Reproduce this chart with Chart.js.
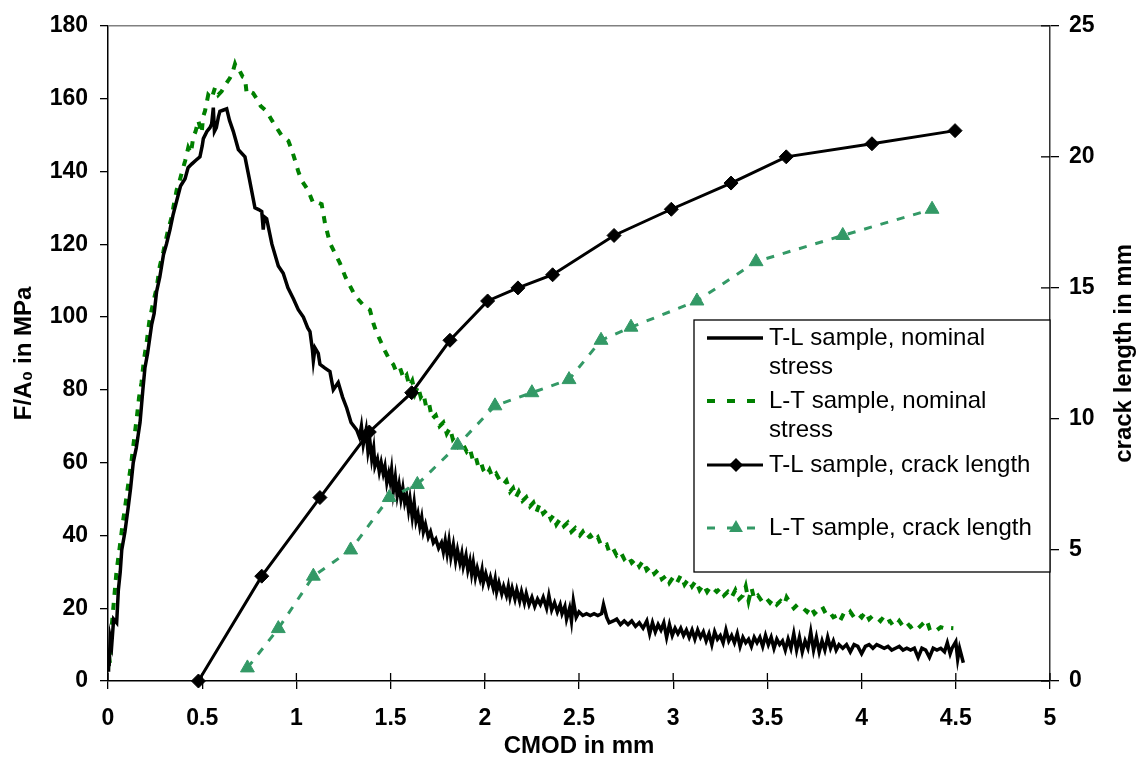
<!DOCTYPE html>
<html>
<head>
<meta charset="utf-8">
<script src="https://cdn.jsdelivr.net/npm/chart.js@4/dist/chart.umd.min.js"></script>
<style>
  html, body { margin: 0; background: #fff; }
</style>
</head>
<body>
<canvas id="chart" width="1141" height="764"></canvas>
<script>
// Données
const seriesNames = [
  ['T-L sample, nominal', 'stress'],
  ['L-T sample, nominal', 'stress'],
  ['T-L sample, crack length'],
  ['L-T sample, crack length']
];

// CMOD (mm), F/A0 (MPa)
const tlStress = [
  [0,3],[0.003,8],[0.006,4],[0.012,12],[0.02,10],[0.03,17],[0.046,16],[0.055,25],[0.065,30],[0.073,36],
  [0.09,41],[0.108,48],[0.12,53],[0.134,60],[0.15,64],[0.17,71],[0.185,80],[0.196,86],[0.21,90],[0.232,98],
  [0.245,101],[0.258,107],[0.275,111],[0.294,117],[0.31,120],[0.329,124],[0.345,128],[0.365,132],[0.385,136],[0.409,138],
  [0.425,141],[0.444,142],[0.465,143],[0.488,144],[0.5,147],[0.506,149],[0.525,151],[0.541,152],[0.55,153],[0.559,157.5],
  [0.565,151],[0.575,152],[0.586,155],[0.594,156.5],[0.61,156.8],[0.63,157.2],[0.645,154],[0.665,151],[0.692,146],[0.727,144],
  [0.75,138],[0.78,130],[0.8,129.5],[0.816,129],[0.824,124],[0.83,127.5],[0.842,127],[0.87,120],[0.904,114],[0.93,112],
  [0.955,108],[0.984,105],[1.01,102],[1.037,100],[1.06,97],[1.072,96],[1.085,91],[1.09,88],[1.099,91.5],[1.116,90],
  [1.125,87],[1.15,86],[1.178,85],[1.196,80],[1.222,82],[1.245,78],[1.267,75],[1.29,71],[1.32,69],[1.335,67],
  [1.345,70],[1.355,65],[1.37,69],[1.38,63],[1.39,66],[1.4,61],[1.41,64],[1.417,59],[1.43,61],[1.44,57.5],
  [1.45,60],[1.461,57],[1.47,59],[1.48,54.5],[1.49,57],[1.497,55],[1.505,58],[1.514,52],[1.525,56],[1.535,51],
  [1.545,54],[1.555,50],[1.565,53],[1.575,49],[1.585,51],[1.595,47],[1.603,50],[1.615,45],[1.625,49],[1.635,44],
  [1.645,46],[1.655,42.5],[1.665,45],[1.674,41],[1.685,43],[1.7,39.5],[1.712,41],[1.727,38],[1.74,39],[1.755,36.5],
  [1.77,38],[1.78,35.5],[1.79,38.5],[1.8,35],[1.81,38.5],[1.82,34],[1.833,37.5],[1.845,33],[1.855,36],[1.868,32.5],
  [1.878,35],[1.886,31.5],[1.9,34.5],[1.91,30.5],[1.921,33],[1.93,29.5],[1.939,32.5],[1.95,28.5],[1.96,31],[1.975,28],
  [1.985,30.5],[1.992,27],[2.005,29.5],[2.02,26.5],[2.03,28.5],[2.045,25.5],[2.055,28],[2.063,24.5],[2.075,27],[2.09,24],
  [2.1,26],[2.115,23.5],[2.125,26],[2.134,23],[2.145,25.5],[2.16,22.5],[2.17,25],[2.185,22],[2.195,24.5],[2.21,21.5],
  [2.22,24],[2.235,21],[2.25,23],[2.265,20.5],[2.28,22.5],[2.295,21],[2.31,23],[2.328,20],[2.34,23.5],[2.355,19.5],
  [2.37,21.5],[2.385,19],[2.4,21],[2.41,18.5],[2.425,20.5],[2.434,17],[2.45,20],[2.46,16.5],[2.47,22],[2.485,17.5],
  [2.5,19],[2.52,18],[2.54,18.5],[2.56,18],[2.58,18.5],[2.6,18],[2.62,18.5],[2.63,21],[2.647,17.5],[2.66,16],
  [2.682,16.5],[2.7,17],[2.72,15.5],[2.74,16.5],[2.76,15.5],[2.78,16.5],[2.8,15],[2.82,16],[2.84,14.5],[2.86,16.5],
  [2.875,13],[2.89,16],[2.905,13.5],[2.92,15.5],[2.935,14],[2.95,16],[2.965,12],[2.98,15.5],[2.995,12.5],[3.01,14.5],
  [3.025,13],[3.04,14.5],[3.055,12.5],[3.07,14],[3.085,12],[3.1,14],[3.115,11.5],[3.13,14],[3.145,12],[3.16,13.5],
  [3.175,11],[3.19,13],[3.205,10],[3.22,13.5],[3.235,11.5],[3.25,12.5],[3.265,10.5],[3.28,14],[3.295,11],[3.31,12.5],
  [3.325,10.5],[3.34,13],[3.355,9.5],[3.37,12],[3.385,10.5],[3.4,11.5],[3.415,9.5],[3.43,12],[3.445,10.5],[3.46,12],
  [3.475,9.5],[3.49,12.5],[3.505,10],[3.52,12],[3.535,9],[3.55,11.5],[3.565,10],[3.58,11],[3.595,8.5],[3.61,11.5],
  [3.625,9],[3.64,13],[3.655,8.5],[3.67,12],[3.685,8],[3.7,11],[3.715,9],[3.73,13.5],[3.745,8.5],[3.76,12],
  [3.775,8],[3.79,11],[3.805,8.5],[3.82,12],[3.835,9],[3.85,11],[3.865,8.5],[3.88,10],[3.9,9],[3.92,10],
  [3.94,8],[3.96,10],[3.98,9.5],[4.0,7.5],[4.02,9.5],[4.04,10],[4.06,9],[4.08,10],[4.1,9.5],[4.12,9],
  [4.14,9.5],[4.16,8.5],[4.18,9],[4.2,9.5],[4.22,8.5],[4.24,9],[4.26,8.5],[4.28,9],[4.3,6.5],[4.32,9],
  [4.34,8.5],[4.36,6.5],[4.38,9],[4.4,8.5],[4.42,9],[4.44,8],[4.455,10.5],[4.47,7.5],[4.48,9],[4.5,10.8],
  [4.51,6],[4.52,9],[4.53,7],[4.54,5]
];

const ltStress = [
  [0,3],[0.005,7],[0.01,5],[0.018,14],[0.028,20],[0.045,30],[0.064,37.5],[0.08,44],[0.09,47.5],[0.11,55],
  [0.126,61],[0.14,67],[0.152,72],[0.165,78],[0.178,82],[0.19,88],[0.205,93],[0.22,99],[0.24,104],[0.258,108],
  [0.275,114],[0.294,118],[0.315,123],[0.338,127.5],[0.35,131],[0.365,135],[0.378,137],[0.391,139.5],[0.41,143],[0.426,146.5],
  [0.44,145],[0.453,149.5],[0.465,151],[0.479,154],[0.497,150.5],[0.505,155],[0.515,156.6],[0.532,161],[0.55,160],[0.568,163],
  [0.585,161],[0.603,162],[0.625,164],[0.648,165.7],[0.66,167],[0.674,169.5],[0.685,168],[0.7,167.5],[0.715,166],[0.727,165.7],
  [0.736,161.5],[0.75,162],[0.77,161.5],[0.789,160],[0.81,158],[0.842,156.5],[0.87,154],[0.895,152],[0.92,150],[0.957,148.4],
  [0.975,146],[0.993,143],[1.01,140],[1.028,137.5],[1.06,135],[1.09,131.2],[1.11,131.5],[1.134,131],[1.152,125.7],[1.165,123],
  [1.178,120.3],[1.2,118],[1.231,114.8],[1.26,111],[1.285,108.5],[1.31,106],[1.329,104.8],[1.36,103],[1.39,102],[1.41,98],
  [1.426,95.7],[1.45,93],[1.47,90.7],[1.497,88],[1.514,87],[1.53,85],[1.55,86],[1.57,83],[1.585,84],[1.6,81],
  [1.615,82.5],[1.63,79],[1.645,81],[1.66,78],[1.674,79],[1.69,75],[1.705,76],[1.72,72],[1.74,73],[1.76,70],
  [1.78,71],[1.798,68],[1.815,69.5],[1.83,66.5],[1.845,67.5],[1.86,64.5],[1.88,65.5],[1.904,63],[1.92,64],[1.935,61],
  [1.95,62],[1.965,59],[1.98,60],[1.992,58],[2.01,56.6],[2.025,58],[2.04,56],[2.06,57],[2.081,55],[2.1,54],
  [2.115,55],[2.134,52],[2.15,53],[2.165,50.5],[2.18,52],[2.2,49.5],[2.22,50.5],[2.24,48],[2.258,49],[2.275,46.5],
  [2.29,48.5],[2.31,46],[2.33,47],[2.35,44.5],[2.364,45.5],[2.38,43],[2.4,44.5],[2.42,42.5],[2.44,43.5],[2.46,41],
  [2.48,42],[2.505,40],[2.52,41],[2.54,39],[2.56,40],[2.58,38.5],[2.6,39.5],[2.62,37],[2.647,37.5],[2.66,35.5],
  [2.68,36.5],[2.7,34.5],[2.72,35.5],[2.74,33.5],[2.76,34.5],[2.78,32.5],[2.8,33.5],[2.82,31.5],[2.84,33],[2.859,30.5],
  [2.88,31.5],[2.9,29.5],[2.92,30.5],[2.94,28],[2.965,29],[2.98,27],[3.0,28.5],[3.02,27],[3.04,29],[3.06,26.5],
  [3.08,28],[3.1,26],[3.12,27.5],[3.14,25],[3.16,26.5],[3.18,24.5],[3.2,26],[3.231,24.5],[3.25,25.5],[3.27,23.5],
  [3.29,24.5],[3.31,23],[3.33,25],[3.35,22.5],[3.37,23.5],[3.385,26],[3.4,22],[3.416,25.5],[3.43,22.5],[3.45,23.5],
  [3.47,22],[3.49,23],[3.514,21.5],[3.53,22.5],[3.55,21],[3.57,22],[3.59,21],[3.602,23],[3.62,21.5],[3.64,20],
  [3.66,21],[3.69,20],[3.71,19],[3.73,20.5],[3.75,18.5],[3.77,19.5],[3.79,20.5],[3.81,18.5],[3.83,19],[3.85,17.5],
  [3.87,18],[3.885,16.5],[3.9,18],[3.92,17.5],[3.94,19],[3.96,17.5],[3.98,18.5],[4.0,17.5],[4.02,19],[4.04,17],
  [4.06,18],[4.08,17.5],[4.1,16.5],[4.115,17.5],[4.13,16],[4.15,16.5],[4.17,15],[4.186,15.5],[4.2,16.5],[4.22,15],
  [4.24,16],[4.26,14.8],[4.28,15.5],[4.3,14.5],[4.32,15.5],[4.345,16.8],[4.36,14.5],[4.38,15],[4.4,14],[4.42,14.8],
  [4.44,14.5],[4.46,14.6],[4.487,14.5]
];

// longueur de fissure (mm)
const tlCrackX = [0.48, 0.816, 1.125, 1.387, 1.612, 1.815, 2.015, 2.176, 2.36, 2.686, 2.99, 3.307, 3.6, 4.055, 4.496];
const tlCrackY = [0, 4, 7, 9.5, 11, 13, 14.5, 15, 15.5, 17, 18, 19, 20, 20.5, 21];
const ltCrackX = [0.74, 0.904, 1.09, 1.288, 1.493, 1.642, 1.856, 2.054, 2.25, 2.447, 2.617, 2.776, 3.126, 3.44, 3.9, 4.374];
const ltCrackY = [0.5, 2, 4, 5, 7, 7.5, 9, 10.5, 11, 11.5, 13, 13.5, 14.5, 16, 17, 18];

const FONT = '"Liberation Sans", Arial, sans-serif';

const toPoints = pairs => pairs.map(([x, y]) => ({ x, y }));
const zipPoints = (xs, ys) => xs.map((x, i) => ({ x, y: ys[i] }));

// Légende + bord haut + petites graduations internes
const decorPlugin = {
  id: 'decor',
  afterDraw(chart) {
    const { ctx, chartArea: a, scales } = chart;
    ctx.save();
    // bord supérieur
    ctx.strokeStyle = '#808080';
    ctx.lineWidth = 1.5;
    ctx.beginPath();
    ctx.moveTo(a.left, a.top);
    ctx.lineTo(a.right, a.top);
    ctx.stroke();

    // graduations vers l'intérieur
    ctx.strokeStyle = '#000';
    ctx.lineWidth = 1.3;
    scales.x.ticks.forEach(t => {
      const px = scales.x.getPixelForValue(t.value);
      ctx.beginPath(); ctx.moveTo(px, a.bottom); ctx.lineTo(px, a.bottom - 8); ctx.stroke();
    });
    scales.y1.ticks.forEach(t => {
      const py = scales.y1.getPixelForValue(t.value);
      ctx.beginPath(); ctx.moveTo(a.right, py); ctx.lineTo(a.right - 9, py); ctx.stroke();
    });

    // légende
    const box = { l: 694, t: 320, r: 1050, b: 572 };
    ctx.fillStyle = '#fff';
    ctx.fillRect(box.l, box.t, box.r - box.l, box.b - box.t);
    ctx.strokeStyle = '#000';
    ctx.lineWidth = 1.3;
    ctx.strokeRect(box.l, box.t, box.r - box.l, box.b - box.t);

    const rows = [338, 401, 465, 528];
    ctx.font = '24px ' + FONT;
    ctx.textBaseline = 'middle';
    chart.data.datasets.forEach((ds, i) => {
      const y = rows[i];
      ctx.strokeStyle = ds.borderColor;
      ctx.lineWidth = ds.borderWidth;
      ctx.setLineDash(ds.legendDash || []);
      ctx.beginPath(); ctx.moveTo(707, y); ctx.lineTo(763, y); ctx.stroke();
      ctx.setLineDash([]);
      ctx.fillStyle = ds.pointBackgroundColor || ds.borderColor;
      if (ds.pointStyle === 'rectRot') {
        const r = 7;
        ctx.beginPath();
        ctx.moveTo(736 - r, y); ctx.lineTo(736, y - r); ctx.lineTo(736 + r, y); ctx.lineTo(736, y + r);
        ctx.closePath(); ctx.fill();
      } else if (ds.pointStyle === 'triangle') {
        const r = 8;
        ctx.beginPath();
        ctx.moveTo(736, y - r);
        ctx.lineTo(736 + r * 0.866, y + r * 0.5);
        ctx.lineTo(736 - r * 0.866, y + r * 0.5);
        ctx.closePath(); ctx.fill();
      }
      ctx.fillStyle = '#000';
      seriesNames[i].forEach((line, k) => ctx.fillText(line, 769, y + k * 29));
    });

    // titre de l'axe droit (lu de bas en haut)
    ctx.translate(1124, (a.top + a.bottom) / 2);
    ctx.rotate(-Math.PI / 2);
    ctx.textAlign = 'center';
    ctx.font = 'bold 24px ' + FONT;
    ctx.fillText('crack length in mm', 0, 0);
    ctx.restore();
  }
};

const tickFont = { family: FONT, size: 23, weight: 'bold' };

new Chart(document.getElementById('chart'), {
  type: 'line',
  data: {
    datasets: [
      {
        label: seriesNames[0].join(' '),
        data: toPoints(tlStress),
        borderColor: '#000',
        borderWidth: 3.5,
        pointRadius: 0,
        tension: 0,
        yAxisID: 'y',
        order: 3
      },
      {
        label: seriesNames[1].join(' '),
        data: toPoints(ltStress),
        borderColor: '#008000',
        borderWidth: 4,
        borderDash: [7, 8],
        legendDash: [8, 12],
        pointRadius: 0,
        tension: 0,
        yAxisID: 'y',
        order: 4
      },
      {
        label: seriesNames[2].join(' '),
        data: zipPoints(tlCrackX, tlCrackY),
        borderColor: '#000',
        borderWidth: 3,
        pointStyle: 'rectRot',
        pointRadius: 7,
        pointBackgroundColor: '#000',
        pointBorderColor: '#000',
        pointBorderWidth: 1,
        tension: 0,
        clip: 10,
        yAxisID: 'y1',
        order: 1
      },
      {
        label: seriesNames[3].join(' '),
        data: zipPoints(ltCrackX, ltCrackY),
        borderColor: '#339966',
        borderWidth: 3,
        borderDash: [8, 9],
        legendDash: [8, 12],
        pointStyle: 'triangle',
        pointRadius: 8,
        pointBackgroundColor: '#339966',
        pointBorderColor: '#339966',
        pointBorderWidth: 1,
        tension: 0,
        clip: 10,
        yAxisID: 'y1',
        order: 2
      }
    ]
  },
  options: {
    responsive: false,
    animation: false,
    devicePixelRatio: 1,
    layout: { padding: { top: 21, left: 0, right: 0, bottom: 0 } },
    plugins: {
      legend: { display: false },
      tooltip: { enabled: false }
    },
    scales: {
      x: {
        type: 'linear',
        min: 0,
        max: 5,
        ticks: {
          stepSize: 0.5, color: '#000', font: tickFont, padding: 16, maxRotation: 0,
          callback: v => String(Math.round(v * 10) / 10)
        },
        grid: { drawOnChartArea: false, tickLength: 8, color: '#000', lineWidth: 1.3 },
        border: { color: '#000', width: 1.5 },
        title: { display: true, text: 'CMOD in mm', color: '#000', font: { family: FONT, size: 24, weight: 'bold' }, padding: { top: 0, bottom: 3 } },
        afterFit: s => { s.height = 83; }
      },
      y: {
        position: 'left',
        min: 0,
        max: 180,
        ticks: { stepSize: 20, color: '#000', font: tickFont, padding: 12 },
        grid: { drawOnChartArea: false, tickLength: 8, color: '#000', lineWidth: 1.3 },
        border: { color: '#000', width: 1.5 },
        title: { display: true, text: 'F/A\u2080 in MPa', color: '#000', font: { family: FONT, size: 24, weight: 'bold' }, padding: { top: 10, bottom: 0 } },
        afterFit: s => { s.width = 108; }
      },
      y1: {
        position: 'right',
        min: 0,
        max: 25,
        ticks: { stepSize: 5, color: '#000', font: tickFont, padding: 10 },
        grid: { drawOnChartArea: false, tickLength: 9, color: '#000', lineWidth: 1.3 },
        border: { color: '#333', width: 1.5 },
        afterFit: s => { s.width = 91; }
      }
    }
  },
  plugins: [decorPlugin]
});
</script>
</body>
</html>
